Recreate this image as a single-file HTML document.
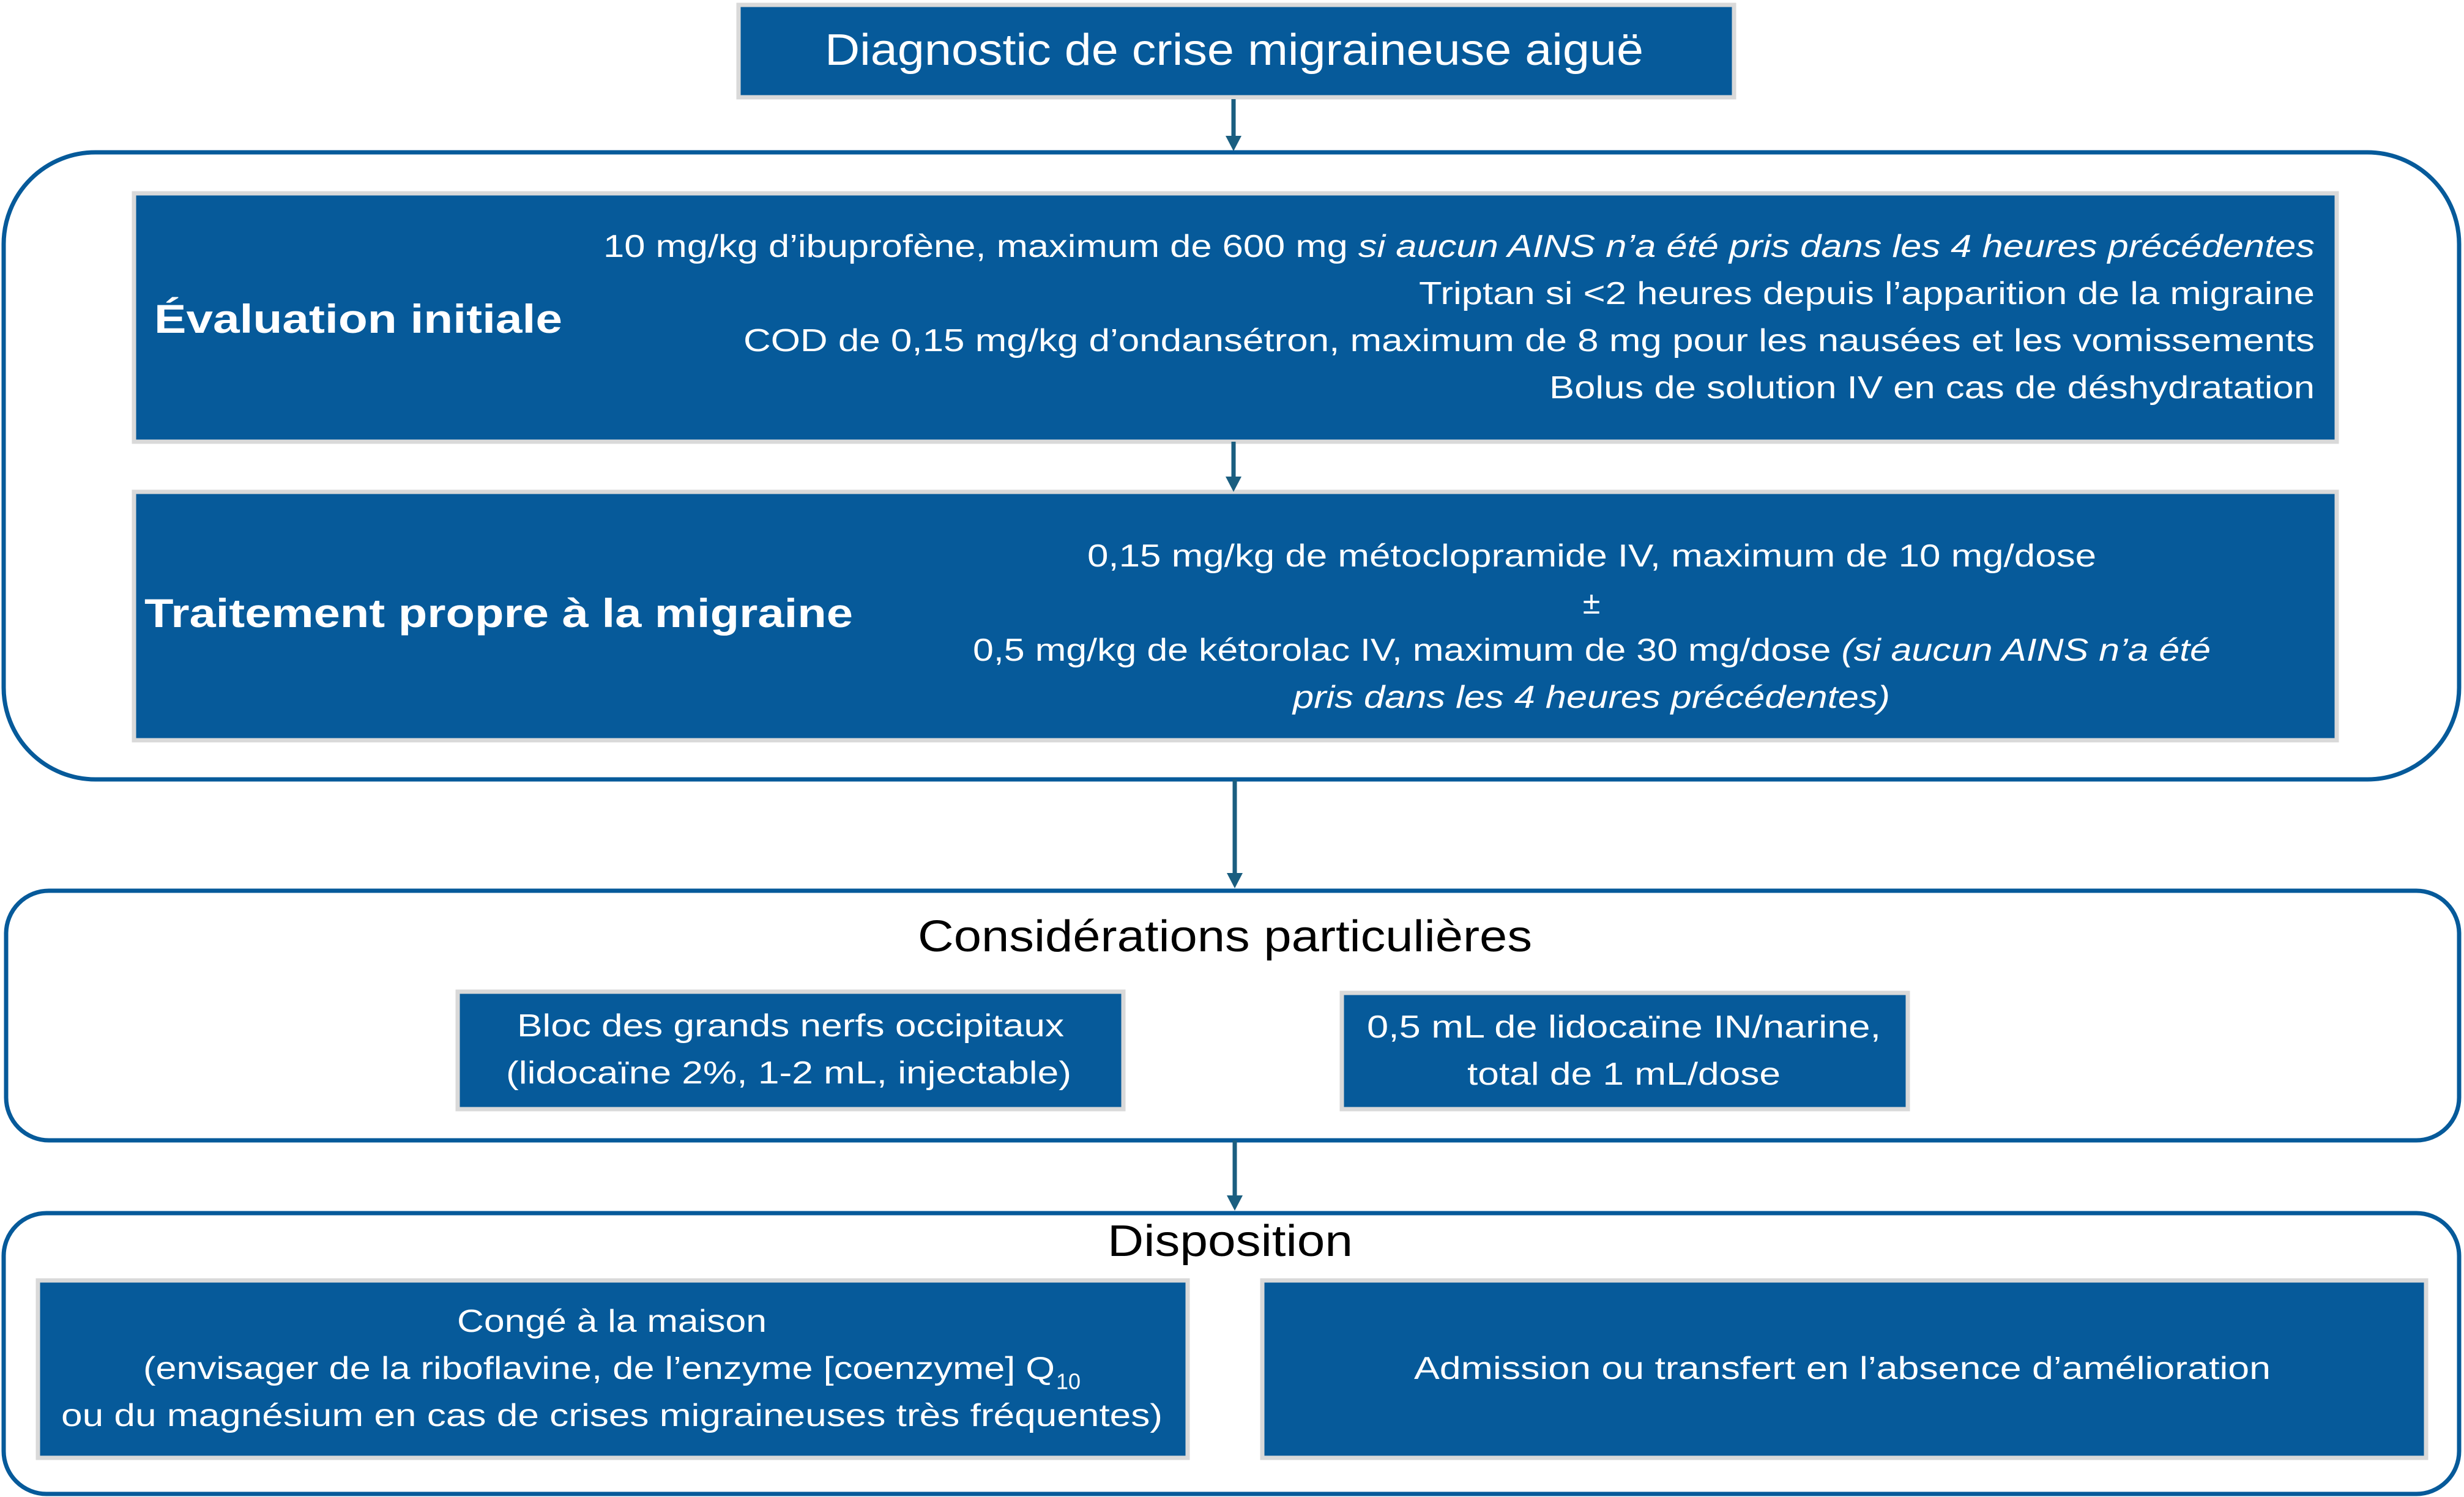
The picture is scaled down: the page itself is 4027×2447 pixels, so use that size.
<!DOCTYPE html>
<html><head><meta charset="utf-8"><style>html,body{margin:0;padding:0;background:#fff}svg{display:block}</style></head>
<body>
<svg xmlns="http://www.w3.org/2000/svg" width="4027" height="2447" viewBox="0 0 4027 2447" font-family="Liberation Sans, sans-serif">
<defs><marker id="ah" markerWidth="10" markerHeight="10" refX="5" refY="9" orient="auto" markerUnits="userSpaceOnUse" viewBox="0 0 10 10"></marker></defs>
<g fill="#065a9a" stroke="#d9d9d9" stroke-width="7">
<rect x="1207" y="8" width="1627" height="151"/>
<rect x="219" y="316" width="3600" height="406"/>
<rect x="219" y="804" width="3600" height="406"/>
<rect x="748" y="1621" width="1088" height="192"/>
<rect x="2193" y="1623" width="925" height="190"/>
<rect x="62" y="2093" width="1879" height="290"/>
<rect x="2063" y="2093" width="1902" height="290"/>
</g>
<g fill="none" stroke="#065a9a" stroke-width="7">
<rect x="6" y="249" width="4013" height="1025" rx="150" ry="150"/>
<rect x="10" y="1456" width="4009" height="408" rx="70" ry="70"/>
<rect x="6" y="1983" width="4013" height="459" rx="70" ry="70"/>
</g>
<g stroke="#1a5e80" stroke-width="7" fill="#1a5e80">
<line x1="2016" y1="162" x2="2016" y2="225"/><polygon points="2003,222 2029,222 2016,247" stroke="none"/>
<line x1="2016" y1="722" x2="2016" y2="782"/><polygon points="2003,779 2029,779 2016,804" stroke="none"/>
<line x1="2018" y1="1274" x2="2018" y2="1430"/><polygon points="2005,1427 2031,1427 2018,1452" stroke="none"/>
<line x1="2018" y1="1864" x2="2018" y2="1957"/><polygon points="2005,1954 2031,1954 2018,1979" stroke="none"/>
</g>
<g fill="#fff" font-size="52" dominant-baseline="central">
<text x="1348" y="82" font-size="72" textLength="1338" lengthAdjust="spacingAndGlyphs">Diagnostic de crise migraineuse aiguë</text>
<text x="252" y="521" font-size="66" font-weight="bold" textLength="667" lengthAdjust="spacingAndGlyphs">Évaluation initiale</text>
<text x="986" y="403" textLength="2797" lengthAdjust="spacingAndGlyphs">10 mg/kg d’ibuprofène, maximum de 600 mg  <tspan font-style="italic">si aucun AINS n’a été pris dans les 4 heures précédentes</tspan></text>
<text x="2319" y="480" textLength="1464" lengthAdjust="spacingAndGlyphs">Triptan si &lt;2 heures depuis l’apparition de la migraine</text>
<text x="1215" y="557" textLength="2568" lengthAdjust="spacingAndGlyphs">COD de 0,15 mg/kg d’ondansétron, maximum de 8 mg  pour les nausées et les vomissements</text>
<text x="2532" y="634" textLength="1251" lengthAdjust="spacingAndGlyphs">Bolus de solution IV en cas de déshydratation</text>
<text x="236" y="1002" font-size="66" font-weight="bold" textLength="1158" lengthAdjust="spacingAndGlyphs">Traitement propre à la migraine</text>
<text x="1777" y="909" textLength="1649" lengthAdjust="spacingAndGlyphs">0,15 mg/kg de métoclopramide IV, maximum de 10 mg/dose</text>
<text x="2601" y="986" text-anchor="middle">±</text>
<text x="1590" y="1063" textLength="2023" lengthAdjust="spacingAndGlyphs">0,5 mg/kg de kétorolac IV, maximum de 30 mg/dose <tspan font-style="italic">(si aucun AINS n’a été</tspan></text>
<text x="2113" y="1140" font-style="italic" textLength="976" lengthAdjust="spacingAndGlyphs">pris dans les 4 heures précédentes)</text>
<text x="845" y="1677" textLength="894" lengthAdjust="spacingAndGlyphs">Bloc des grands nerfs occipitaux</text>
<text x="827" y="1754" textLength="924" lengthAdjust="spacingAndGlyphs">(lidocaïne 2%, 1-2 mL, injectable)</text>
<text x="2234" y="1679" textLength="840" lengthAdjust="spacingAndGlyphs">0,5 mL de lidocaïne  IN/narine,</text>
<text x="2398" y="1756" textLength="512" lengthAdjust="spacingAndGlyphs">total de 1 mL/dose</text>
<text x="747" y="2160" textLength="506" lengthAdjust="spacingAndGlyphs">Congé à la maison</text>
<text x="234" y="2237" textLength="1490" lengthAdjust="spacingAndGlyphs">(envisager de la riboflavine, de l’enzyme [coenzyme] Q</text>
<text x="1726" y="2258" font-size="36">10</text>
<text x="100" y="2314" textLength="1800" lengthAdjust="spacingAndGlyphs">ou du magnésium  en cas de crises migraineuses très fréquentes)</text>
<text x="2311" y="2237" textLength="1400" lengthAdjust="spacingAndGlyphs">Admission ou transfert en l’absence d’amélioration</text>
</g>
<g fill="#000" font-size="72" dominant-baseline="central">
<text x="1500" y="1531" textLength="1004" lengthAdjust="spacingAndGlyphs">Considérations particulières</text>
<text x="1810" y="2029" textLength="401" lengthAdjust="spacingAndGlyphs">Disposition</text>
</g>
</svg>
</body></html>
